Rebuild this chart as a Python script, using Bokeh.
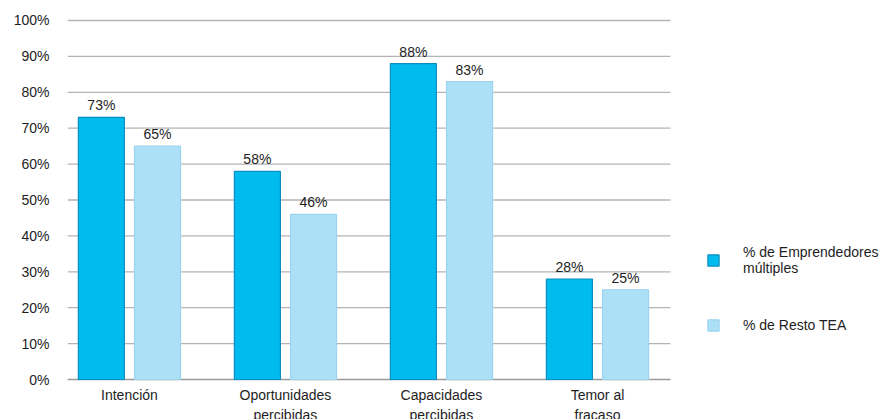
from bokeh.plotting import figure
from bokeh.models import ColumnDataSource, FixedTicker, Range1d, Legend, LegendItem
from bokeh.embed import file_html
from bokeh.resources import INLINE
from bokeh.core.properties import value

categories = ["Intención", "Oportunidades\npercibidas", "Capacidades\npercibidas", "Temor al\nfracaso"]
multiples = [73, 58, 88, 28]
resto_tea = [65, 46, 83, 25]
series_names = ["% de Emprendedores\nmúltiples", "% de Resto TEA"]
y_ticks = [0, 10, 20, 30, 40, 50, 60, 70, 80, 90, 100]

FONT = "Liberation Sans"
FSIZE = "14px"
TXT = "#1E1E1E"
DARK = "#00BCEE"
DARK_LINE = "#0A8DC0"
LIGHT = "#ABE0F7"
LIGHT_LINE = "#9CD3EE"
GRID = "#B4B4B4"
BASE = "#9A9A9A"

# horizontal extent of the bar area, in category units
AREA_X0, AREA_X1 = -0.397, 3.468

idx = list(range(len(categories)))
off = 0.18
w = 0.295

src_a = ColumnDataSource(dict(x=[i - off for i in idx], top=multiples,
                              lab=[f"{v}%" for v in multiples]))
src_b = ColumnDataSource(dict(x=[i + off for i in idx], top=resto_tea,
                              lab=[f"{v}%" for v in resto_tea]))
src_cat = ColumnDataSource(dict(x=idx, y=[0] * len(idx), name=categories))
grid_src = ColumnDataSource(dict(
    x0=[AREA_X0] * len(y_ticks), x1=[AREA_X1] * len(y_ticks), y=y_ticks,
    color=[BASE if t == 0 else GRID for t in y_ticks]))

# the frame covers the whole page right of the y labels; the legend sits in it
p = figure(width=887, height=419, output_backend="svg", toolbar_location=None,
           x_axis_location=None,
           x_range=Range1d(AREA_X0, 4.859), y_range=Range1d(-11.14, 105.57))
p.min_border_left = 67
p.min_border_right = 0
p.min_border_top = 0
p.min_border_bottom = 0
p.outline_line_color = None
p.background_fill_color = "white"
p.border_fill_color = "white"
p.grid.grid_line_color = None

# gridlines limited to the bar area
p.segment(x0="x0", x1="x1", y0="y", y1="y", source=grid_src,
          line_color="color", line_width=1.3)

r_a = p.vbar(x="x", top="top", width=w, source=src_a, fill_color=DARK,
             line_color=DARK_LINE, line_width=1.2)
r_b = p.vbar(x="x", top="top", width=w, source=src_b, fill_color=LIGHT,
             line_color=LIGHT_LINE, line_width=1.2)

for s in (src_a, src_b):
    p.text(x="x", y="top", text="lab", source=s, text_align="center",
           text_baseline="bottom", y_offset=-4, text_font=value(FONT),
           text_font_size=FSIZE, text_color=TXT)

# category names under the baseline
p.text(x="x", y="y", text="name", source=src_cat, text_align="center",
       text_baseline="top", y_offset=7, text_font=value(FONT),
       text_font_size=FSIZE, text_color=TXT, text_line_height=1.3)

# y axis: percentage labels, no line
p.yaxis.ticker = FixedTicker(ticks=y_ticks)
p.yaxis.major_label_overrides = {t: f"{t}%" for t in y_ticks}
p.yaxis.axis_line_color = None
p.yaxis.major_tick_line_color = None
p.yaxis.minor_tick_line_color = None
p.yaxis.major_label_standoff = 12
p.yaxis.major_label_text_font = FONT
p.yaxis.major_label_text_font_size = FSIZE
p.yaxis.major_label_text_color = TXT

legend = Legend(items=[LegendItem(label=series_names[0], renderers=[r_a]),
                       LegendItem(label=series_names[1], renderers=[r_b])],
                location=(639, 86))
legend.padding = 0
legend.margin = 0
legend.border_line_color = None
legend.background_fill_alpha = 0
legend.label_text_font = FONT
legend.label_text_font_size = FSIZE
legend.label_text_color = TXT
legend.glyph_width = 14
legend.glyph_height = 14
legend.label_standoff = 23
legend.spacing = 41
legend.label_height = 14
p.add_layout(legend, "center")

open("out.html", "w").write(file_html(p, INLINE))
